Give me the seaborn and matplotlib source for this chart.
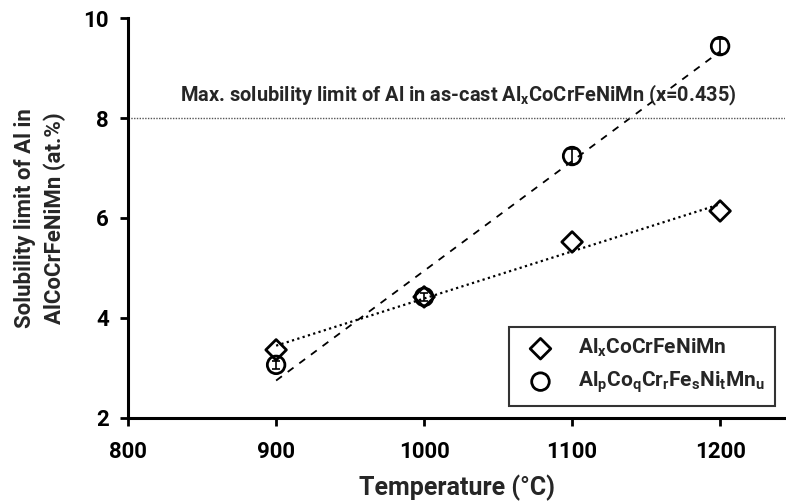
import numpy as np
import pandas as pd
import matplotlib
matplotlib.use("Agg")
import matplotlib.pyplot as plt
import seaborn as sns

temps = [900, 1000, 1100, 1200]
al_x = [3.36, 4.42, 5.52, 6.14]
al_p = [3.06, 4.42, 7.24, 9.44]
al_p_err = [0.08, 0.08, 0.15, 0.15]
max_limit = 8.0
xticks = [800, 900, 1000, 1100, 1200]
yticks = [2, 4, 6, 8, 10]

sns.set_style("ticks")
plt.rcParams['font.family'] = ['Roboto', 'DejaVu Sans']
plt.rcParams['mathtext.fontset'] = 'custom'
plt.rcParams['mathtext.rm'] = 'Roboto:bold'
plt.rcParams['mathtext.it'] = 'Roboto:bold'
plt.rcParams['mathtext.bf'] = 'Roboto:bold'

df1 = pd.DataFrame({"T": temps, "v": al_x})
df2 = pd.DataFrame({"T": temps, "v": al_p, "e": al_p_err})

fig = plt.figure(figsize=(7.86, 5.04), dpi=100)
ax = fig.add_axes([0.163, 0.171, 0.836, 0.793])

sns.regplot(data=df1, x="T", y="v", ax=ax, scatter=False, ci=None, truncate=True,
            line_kws=dict(color="black", linestyle=(0, (1, 1.5)), linewidth=1.6))
sns.regplot(data=df2, x="T", y="v", ax=ax, scatter=False, ci=None, truncate=True,
            line_kws=dict(color="black", linestyle=(0, (4, 4)), linewidth=1.3))

ax.axhline(max_limit, color="#555555", linestyle=(0, (1, 1)), linewidth=1.0)

ax.errorbar(temps, al_p, yerr=al_p_err, fmt="none", ecolor="black", elinewidth=1.2,
            capsize=3, capthick=1.2, zorder=3)
sns.scatterplot(data=df1, x="T", y="v", ax=ax, marker="D", s=110, facecolor="none",
                edgecolor="black", linewidth=2, zorder=4,
                label=r"Al$_\mathregular{x}$CoCrFeNiMn")
sns.scatterplot(data=df2, x="T", y="v", ax=ax, marker="o", s=160, facecolor="none",
                edgecolor="black", linewidth=2, zorder=4,
                label=r"Al$_\mathregular{p}$Co$_\mathregular{q}$Cr$_\mathregular{r}$Fe$_\mathregular{s}$Ni$_\mathregular{t}$Mn$_\mathregular{u}$")

ax.text(1023, 8.2, r"Max. solubility limit of Al in as-cast Al$_\mathregular{x}$CoCrFeNiMn (x=0.435)",
        ha="center", va="bottom", fontsize=14.4, fontweight="bold")

ax.set_xlim(800, 1244)
ax.set_ylim(2, 10)
ax.set_xticks(xticks)
ax.set_yticks(yticks)
ax.set_xlabel("Temperature (°C)", fontsize=18, fontweight="bold", labelpad=8)
ax.set_ylabel("Solubility limit of Al in\nAlCoCrFeNiMn (at.%)", fontsize=16, fontweight="bold",
              linespacing=1.45, labelpad=12)
for lab in ax.get_xticklabels() + ax.get_yticklabels():
    lab.set_fontweight("bold")
    lab.set_fontsize(16)
ax.tick_params(axis="both", direction="out", length=6, width=2, colors="black")
ax.tick_params(axis="x", pad=11)
ax.tick_params(axis="y", pad=8)
for s in ["left", "bottom"]:
    ax.spines[s].set_linewidth(2.2)
    ax.spines[s].set_color("black")
sns.despine(ax=ax)

leg = ax.legend(loc="lower right", bbox_to_anchor=(0.985, 0.03), frameon=True, fancybox=False,
                edgecolor="black", prop={"weight": "bold", "size": 15},
                handletextpad=0.8, borderpad=0.5, labelspacing=0.5, borderaxespad=0)
leg.get_frame().set_linewidth(1.5)

fig.savefig("out.png", dpi=100)
